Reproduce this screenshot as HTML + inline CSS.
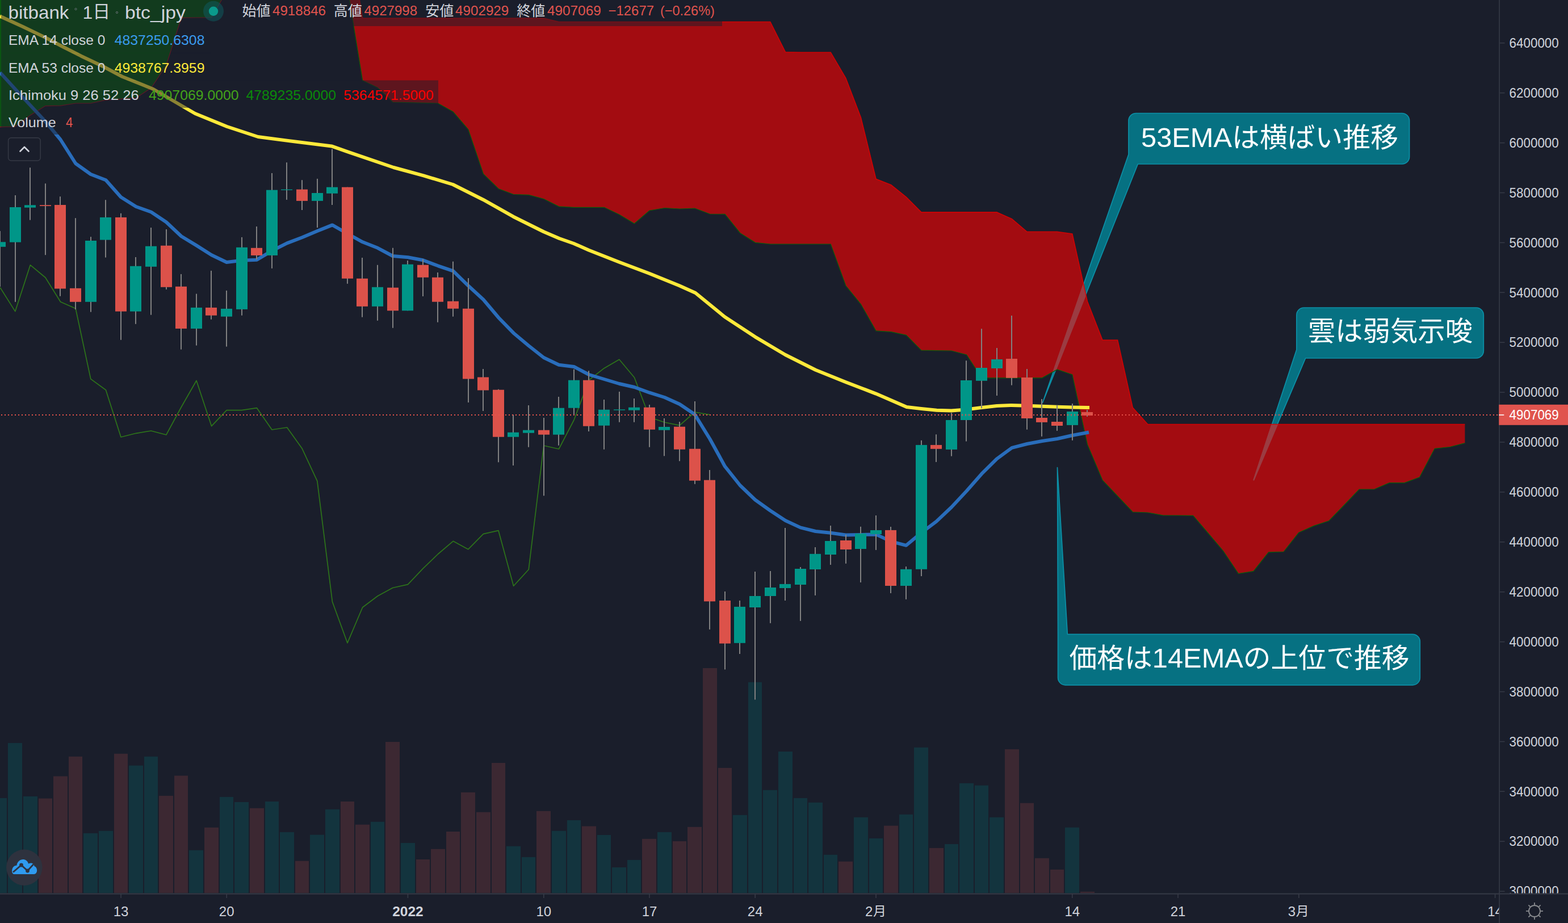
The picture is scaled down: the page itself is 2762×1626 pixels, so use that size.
<!DOCTYPE html>
<html><head><meta charset="utf-8"><title>bitbank btc_jpy</title>
<style>html,body{margin:0;padding:0;background:#1a1e2b;overflow:hidden}svg{display:block}text{font-family:"Liberation Sans","Noto Sans CJK JP",sans-serif}</style>
</head><body>
<svg width="2762" height="1626" viewBox="0 0 2762 1626" role="img" aria-label="bitbank btc_jpy 1日 chart">
<defs>
<clipPath id="pane"><rect x="0" y="0" width="2641" height="1574"/></clipPath>
<clipPath id="cl"><polygon points="612.0,-130.0 638.6,32.0 665.2,32.0 691.8,32.0 718.4,32.0 745.0,32.0 771.6,32.0 798.2,32.0 824.8,32.0 851.4,32.0 878.0,32.0 904.6,32.0 931.2,32.0 957.8,32.0 984.4,38.5 1011.0,38.5 1037.6,38.5 1064.2,38.5 1090.8,38.5 1117.4,38.5 1144.0,38.5 1170.6,38.5 1197.2,38.5 1223.8,38.5 1250.4,38.5 1277.0,38.5 1303.6,38.5 1330.2,38.5 1356.8,38.5 1383.4,91.7 1410.0,92.2 1436.6,92.2 1463.2,92.2 1489.8,137.5 1516.4,207.0 1543.0,315.3 1569.6,325.8 1596.2,347.2 1622.8,373.9 1649.4,373.9 1676.0,373.9 1702.6,373.9 1729.2,373.9 1755.8,373.9 1782.4,385.6 1809.0,408.3 1835.6,408.3 1862.2,408.3 1888.8,412.0 1915.4,531.0 1942.0,599.0 1968.6,599.0 1995.2,718.0 2021.8,747.5 2048.4,747.5 2075.0,747.5 2101.6,747.5 2128.2,747.5 2154.8,747.5 2181.4,747.5 2208.0,747.5 2234.6,747.5 2261.2,747.5 2287.8,747.5 2314.4,747.5 2341.0,747.5 2367.6,747.5 2394.2,747.5 2420.8,747.5 2447.4,747.5 2474.0,747.5 2500.6,747.5 2527.2,747.5 2553.8,747.5 2580.4,747.5 2580.4,780.6 2553.8,787.5 2527.2,790.3 2500.6,840.8 2474.0,850.6 2447.4,850.6 2420.8,862.0 2394.2,862.0 2367.6,890.0 2341.0,917.5 2314.4,926.4 2287.8,938.3 2261.2,972.0 2234.6,972.8 2208.0,1006.4 2181.4,1010.6 2154.8,970.8 2128.2,939.5 2101.6,908.3 2075.0,908.0 2048.4,907.8 2021.8,903.0 1995.2,902.0 1968.6,874.0 1942.0,846.0 1915.4,783.0 1888.8,660.0 1862.2,651.0 1835.6,665.8 1809.0,665.8 1782.4,665.8 1755.8,665.8 1729.2,665.8 1702.6,625.0 1676.0,618.0 1649.4,617.6 1622.8,617.2 1596.2,590.3 1569.6,584.7 1543.0,582.8 1516.4,536.0 1489.8,503.3 1463.2,430.0 1436.6,430.0 1410.0,430.0 1383.4,430.0 1356.8,430.0 1330.2,427.3 1303.6,410.5 1277.0,377.3 1250.4,377.0 1223.8,367.0 1197.2,368.0 1170.6,366.5 1144.0,371.0 1117.4,394.0 1090.8,378.0 1064.2,365.3 1037.6,365.3 1011.0,365.3 984.4,363.9 957.8,350.5 931.2,343.3 904.6,342.5 878.0,332.5 851.4,306.4 824.8,228.0 798.2,197.0 771.6,182.0 745.0,181.3 718.4,180.7 691.8,180.0 665.2,154.5 638.6,141.7 612.0,-22.0"/></clipPath>
<clipPath id="pax"><rect x="2642" y="0" width="120" height="1573.6"/></clipPath>
<clipPath id="tax"><rect x="0" y="1575" width="2640.3" height="60"/></clipPath>
</defs>
<rect width="2762" height="1626" fill="#1a1e2b"/>
<g clip-path="url(#pane)">
<rect x="-12" y="1405.9" width="24" height="167.3" fill="#13343e"/>
<rect x="14" y="1308.9" width="25" height="264.3" fill="#13343e"/>
<rect x="41" y="1402.9" width="25" height="170.3" fill="#13343e"/>
<rect x="68" y="1406.6" width="24" height="166.6" fill="#3c2832"/>
<rect x="94" y="1367.5" width="25" height="205.7" fill="#3c2832"/>
<rect x="121" y="1332.8" width="24" height="240.4" fill="#3c2832"/>
<rect x="147" y="1467.9" width="25" height="105.3" fill="#13343e"/>
<rect x="174" y="1463.8" width="25" height="109.4" fill="#13343e"/>
<rect x="201" y="1327.8" width="24" height="245.4" fill="#3c2832"/>
<rect x="227" y="1348.6" width="25" height="224.6" fill="#13343e"/>
<rect x="254" y="1332.8" width="24" height="240.4" fill="#13343e"/>
<rect x="280" y="1401.9" width="25" height="171.3" fill="#3c2832"/>
<rect x="307" y="1366.5" width="24" height="206.7" fill="#3c2832"/>
<rect x="333" y="1497.8" width="25" height="75.4" fill="#13343e"/>
<rect x="360" y="1457.8" width="25" height="115.4" fill="#3c2832"/>
<rect x="387" y="1403.9" width="24" height="169.3" fill="#13343e"/>
<rect x="413" y="1413.0" width="25" height="160.2" fill="#13343e"/>
<rect x="440" y="1423.7" width="25" height="149.5" fill="#3c2832"/>
<rect x="467" y="1412.0" width="24" height="161.2" fill="#13343e"/>
<rect x="493" y="1465.9" width="25" height="107.3" fill="#13343e"/>
<rect x="520" y="1516.7" width="24" height="56.5" fill="#3c2832"/>
<rect x="546" y="1470.6" width="25" height="102.6" fill="#13343e"/>
<rect x="573" y="1425.8" width="25" height="147.4" fill="#13343e"/>
<rect x="600" y="1412.0" width="24" height="161.2" fill="#3c2832"/>
<rect x="626" y="1452.7" width="25" height="120.5" fill="#3c2832"/>
<rect x="653" y="1447.7" width="24" height="125.5" fill="#13343e"/>
<rect x="679" y="1307.0" width="25" height="266.2" fill="#3c2832"/>
<rect x="706" y="1485.0" width="25" height="88.2" fill="#13343e"/>
<rect x="733" y="1514.0" width="24" height="59.2" fill="#3c2832"/>
<rect x="759" y="1495.7" width="25" height="77.5" fill="#3c2832"/>
<rect x="786" y="1465.0" width="24" height="108.2" fill="#3c2832"/>
<rect x="812" y="1395.9" width="25" height="177.3" fill="#3c2832"/>
<rect x="839" y="1430.7" width="25" height="142.5" fill="#3c2832"/>
<rect x="866" y="1344.0" width="24" height="229.2" fill="#3c2832"/>
<rect x="892" y="1490.7" width="25" height="82.5" fill="#13343e"/>
<rect x="919" y="1509.9" width="24" height="63.3" fill="#13343e"/>
<rect x="945" y="1428.8" width="25" height="144.4" fill="#3c2832"/>
<rect x="972" y="1463.7" width="25" height="109.5" fill="#13343e"/>
<rect x="999" y="1444.9" width="24" height="128.3" fill="#13343e"/>
<rect x="1025" y="1455.5" width="25" height="117.7" fill="#3c2832"/>
<rect x="1052" y="1470.9" width="24" height="102.3" fill="#13343e"/>
<rect x="1078" y="1528.0" width="25" height="45.2" fill="#13343e"/>
<rect x="1105" y="1514.9" width="24" height="58.3" fill="#13343e"/>
<rect x="1131" y="1477.8" width="25" height="95.4" fill="#3c2832"/>
<rect x="1158" y="1465.9" width="25" height="107.3" fill="#13343e"/>
<rect x="1185" y="1481.9" width="24" height="91.3" fill="#3c2832"/>
<rect x="1211" y="1456.8" width="25" height="116.4" fill="#3c2832"/>
<rect x="1238" y="1177.0" width="25" height="396.2" fill="#3c2832"/>
<rect x="1265" y="1352.8" width="24" height="220.4" fill="#3c2832"/>
<rect x="1291" y="1435.8" width="25" height="137.4" fill="#13343e"/>
<rect x="1318" y="1201.8" width="24" height="371.4" fill="#13343e"/>
<rect x="1344" y="1391.8" width="25" height="181.4" fill="#13343e"/>
<rect x="1371" y="1324.0" width="25" height="249.2" fill="#13343e"/>
<rect x="1398" y="1405.9" width="24" height="167.3" fill="#13343e"/>
<rect x="1424" y="1413.8" width="25" height="159.4" fill="#13343e"/>
<rect x="1451" y="1505.8" width="24" height="67.4" fill="#13343e"/>
<rect x="1477" y="1517.7" width="25" height="55.5" fill="#3c2832"/>
<rect x="1504" y="1439.8" width="25" height="133.4" fill="#13343e"/>
<rect x="1531" y="1476.9" width="24" height="96.3" fill="#13343e"/>
<rect x="1557" y="1454.6" width="25" height="118.6" fill="#3c2832"/>
<rect x="1584" y="1434.8" width="24" height="138.4" fill="#13343e"/>
<rect x="1610" y="1316.7" width="25" height="256.5" fill="#13343e"/>
<rect x="1637" y="1493.9" width="25" height="79.3" fill="#3c2832"/>
<rect x="1664" y="1487.0" width="24" height="86.2" fill="#13343e"/>
<rect x="1690" y="1379.8" width="25" height="193.4" fill="#13343e"/>
<rect x="1717" y="1383.6" width="24" height="189.6" fill="#13343e"/>
<rect x="1743" y="1439.8" width="25" height="133.4" fill="#13343e"/>
<rect x="1770" y="1319.9" width="25" height="253.3" fill="#3c2832"/>
<rect x="1797" y="1414.7" width="24" height="158.5" fill="#3c2832"/>
<rect x="1823" y="1511.8" width="25" height="61.4" fill="#3c2832"/>
<rect x="1850" y="1531.9" width="24" height="41.3" fill="#3c2832"/>
<rect x="1876" y="1457.7" width="25" height="115.5" fill="#13343e"/>
<rect x="1903" y="1570.8" width="25" height="2.4" fill="#3c2832"/>
<path d="M2001.0 199.5 H2469.6 A13 13 0 0 1 2482.6 212.5 V276.0 A13 13 0 0 1 2469.6 289.0 H2004.3 L1836.7 709.0 L1988.0 272.0 V212.5 A13 13 0 0 1 2001.0 199.5 Z" fill="#067182" stroke="#0c90a7" stroke-width="1.7" stroke-linejoin="round"/>
<path d="M2296.9 542.0 H2600.3 A13 13 0 0 1 2613.3 555.0 V618.0 A13 13 0 0 1 2600.3 631.0 H2299.6 L2208.3 845.8 L2283.9 616.0 V555.0 A13 13 0 0 1 2296.9 542.0 Z" fill="#067182" stroke="#0c90a7" stroke-width="1.7" stroke-linejoin="round"/>
<path d="M1880.3 1117.3 H2488.3 A13 13 0 0 1 2501.3 1130.3 V1193.8 A13 13 0 0 1 2488.3 1206.8 H1876.6 A13 13 0 0 1 1863.6 1193.8 V1117.3 L1862.5 823.6 Z" fill="#067182" stroke="#0c90a7" stroke-width="1.7" stroke-linejoin="round"/>
<polygon points="0.0,-20.0 0.2,223.6 26.8,223.0 53.4,203.0 80.0,186.6 106.6,186.2 133.2,182.0 159.8,182.0 186.4,176.2 213.0,174.3 239.6,172.5 266.2,155.0 292.8,115.0 319.4,31.4 346.0,31.0 372.6,31.0 399.2,-15.6 399.2,-20.0" fill="rgba(0,128,0,0.6)"/>
<polyline points="0.2,223.6 26.8,223.0 53.4,203.0 80.0,186.6 106.6,186.2 133.2,182.0 159.8,182.0 186.4,176.2 213.0,174.3 239.6,172.5 266.2,155.0 292.8,115.0 319.4,31.4 346.0,31.0 372.6,31.0 399.2,-15.6" fill="none" stroke="#a01020" stroke-width="1.2"/>
<polygon points="612.0,-130.0 638.6,32.0 665.2,32.0 691.8,32.0 718.4,32.0 745.0,32.0 771.6,32.0 798.2,32.0 824.8,32.0 851.4,32.0 878.0,32.0 904.6,32.0 931.2,32.0 957.8,32.0 984.4,38.5 1011.0,38.5 1037.6,38.5 1064.2,38.5 1090.8,38.5 1117.4,38.5 1144.0,38.5 1170.6,38.5 1197.2,38.5 1223.8,38.5 1250.4,38.5 1277.0,38.5 1303.6,38.5 1330.2,38.5 1356.8,38.5 1383.4,91.7 1410.0,92.2 1436.6,92.2 1463.2,92.2 1489.8,137.5 1516.4,207.0 1543.0,315.3 1569.6,325.8 1596.2,347.2 1622.8,373.9 1649.4,373.9 1676.0,373.9 1702.6,373.9 1729.2,373.9 1755.8,373.9 1782.4,385.6 1809.0,408.3 1835.6,408.3 1862.2,408.3 1888.8,412.0 1915.4,531.0 1942.0,599.0 1968.6,599.0 1995.2,718.0 2021.8,747.5 2048.4,747.5 2075.0,747.5 2101.6,747.5 2128.2,747.5 2154.8,747.5 2181.4,747.5 2208.0,747.5 2234.6,747.5 2261.2,747.5 2287.8,747.5 2314.4,747.5 2341.0,747.5 2367.6,747.5 2394.2,747.5 2420.8,747.5 2447.4,747.5 2474.0,747.5 2500.6,747.5 2527.2,747.5 2553.8,747.5 2580.4,747.5 2580.4,780.6 2553.8,787.5 2527.2,790.3 2500.6,840.8 2474.0,850.6 2447.4,850.6 2420.8,862.0 2394.2,862.0 2367.6,890.0 2341.0,917.5 2314.4,926.4 2287.8,938.3 2261.2,972.0 2234.6,972.8 2208.0,1006.4 2181.4,1010.6 2154.8,970.8 2128.2,939.5 2101.6,908.3 2075.0,908.0 2048.4,907.8 2021.8,903.0 1995.2,902.0 1968.6,874.0 1942.0,846.0 1915.4,783.0 1888.8,660.0 1862.2,651.0 1835.6,665.8 1809.0,665.8 1782.4,665.8 1755.8,665.8 1729.2,665.8 1702.6,625.0 1676.0,618.0 1649.4,617.6 1622.8,617.2 1596.2,590.3 1569.6,584.7 1543.0,582.8 1516.4,536.0 1489.8,503.3 1463.2,430.0 1436.6,430.0 1410.0,430.0 1383.4,430.0 1356.8,430.0 1330.2,427.3 1303.6,410.5 1277.0,377.3 1250.4,377.0 1223.8,367.0 1197.2,368.0 1170.6,366.5 1144.0,371.0 1117.4,394.0 1090.8,378.0 1064.2,365.3 1037.6,365.3 1011.0,365.3 984.4,363.9 957.8,350.5 931.2,343.3 904.6,342.5 878.0,332.5 851.4,306.4 824.8,228.0 798.2,197.0 771.6,182.0 745.0,181.3 718.4,180.7 691.8,180.0 665.2,154.5 638.6,141.7 612.0,-22.0" fill="rgba(255,0,0,0.6)"/>
<g clip-path="url(#cl)" fill="#9b3c42" stroke="#9b3c42" stroke-width="2.2"><polygon points="1988,272 1836.7,709 2004.3,289"/><polygon points="2283.9,616 2208.3,845.8 2299.6,631"/></g>
<polyline points="612.0,-130.0 638.6,32.0 665.2,32.0 691.8,32.0 718.4,32.0 745.0,32.0 771.6,32.0 798.2,32.0 824.8,32.0 851.4,32.0 878.0,32.0 904.6,32.0 931.2,32.0 957.8,32.0 984.4,38.5 1011.0,38.5 1037.6,38.5 1064.2,38.5 1090.8,38.5 1117.4,38.5 1144.0,38.5 1170.6,38.5 1197.2,38.5 1223.8,38.5 1250.4,38.5 1277.0,38.5 1303.6,38.5 1330.2,38.5 1356.8,38.5 1383.4,91.7 1410.0,92.2 1436.6,92.2 1463.2,92.2 1489.8,137.5 1516.4,207.0 1543.0,315.3 1569.6,325.8 1596.2,347.2 1622.8,373.9 1649.4,373.9 1676.0,373.9 1702.6,373.9 1729.2,373.9 1755.8,373.9 1782.4,385.6 1809.0,408.3 1835.6,408.3 1862.2,408.3 1888.8,412.0 1915.4,531.0 1942.0,599.0 1968.6,599.0 1995.2,718.0 2021.8,747.5 2048.4,747.5 2075.0,747.5 2101.6,747.5 2128.2,747.5 2154.8,747.5 2181.4,747.5 2208.0,747.5 2234.6,747.5 2261.2,747.5 2287.8,747.5 2314.4,747.5 2341.0,747.5 2367.6,747.5 2394.2,747.5 2420.8,747.5 2447.4,747.5 2474.0,747.5 2500.6,747.5 2527.2,747.5 2553.8,747.5 2580.4,747.5" fill="none" stroke="#e00000" stroke-width="1.6" opacity="0.85"/>
<polyline points="612.0,-22.0 638.6,141.7 665.2,154.5 691.8,180.0 718.4,180.7 745.0,181.3 771.6,182.0 798.2,197.0 824.8,228.0 851.4,306.4 878.0,332.5 904.6,342.5 931.2,343.3 957.8,350.5 984.4,363.9 1011.0,365.3 1037.6,365.3 1064.2,365.3 1090.8,378.0 1117.4,394.0 1144.0,371.0 1170.6,366.5 1197.2,368.0 1223.8,367.0 1250.4,377.0 1277.0,377.3 1303.6,410.5 1330.2,427.3 1356.8,430.0 1383.4,430.0 1410.0,430.0 1436.6,430.0 1463.2,430.0 1489.8,503.3 1516.4,536.0 1543.0,582.8 1569.6,584.7 1596.2,590.3 1622.8,617.2 1649.4,617.6 1676.0,618.0 1702.6,625.0 1729.2,665.8 1755.8,665.8 1782.4,665.8 1809.0,665.8 1835.6,665.8 1862.2,651.0 1888.8,660.0 1915.4,783.0 1942.0,846.0 1968.6,874.0 1995.2,902.0 2021.8,903.0 2048.4,907.8 2075.0,908.0 2101.6,908.3 2128.2,939.5 2154.8,970.8 2181.4,1010.6 2208.0,1006.4 2234.6,972.8 2261.2,972.0 2287.8,938.3 2314.4,926.4 2341.0,917.5 2367.6,890.0 2394.2,862.0 2420.8,862.0 2447.4,850.6 2474.0,850.6 2500.6,840.8 2527.2,790.3 2553.8,787.5 2580.4,780.6" fill="none" stroke="#0a5c0a" stroke-width="1.2"/>
<polyline points="0.2,506.5 26.8,548.6 53.4,466.8 80.0,489.0 106.6,531.8 133.2,543.5 159.8,667.6 186.4,687.0 213.0,770.0 239.6,763.3 266.2,759.0 292.8,766.0 319.4,717.0 346.0,670.5 372.6,750.7 399.2,722.7 425.8,722.7 452.4,718.7 479.0,757.0 505.6,753.0 532.2,790.3 558.8,847.3 585.4,1060.0 612.0,1132.7 638.6,1070.0 665.2,1050.0 691.8,1035.5 718.4,1029.7 745.0,1001.7 771.6,976.0 798.2,953.3 824.8,967.7 851.4,940.7 878.0,934.7 904.6,1032.3 931.2,1003.3 957.8,785.0 984.4,791.0 1011.0,740.0 1037.6,669.5 1064.2,648.7 1090.8,633.3 1117.4,665.0 1144.0,735.0 1170.6,744.0 1197.2,749.3 1223.8,726.0 1250.4,730.7" fill="none" stroke="#2d741a" stroke-width="1.7" stroke-linejoin="round"/>
<polyline points="0.2,127.8 26.8,157.0 53.4,185.5 80.0,214.0 106.6,246.0 133.2,288.0 159.8,307.0 186.4,317.2 213.0,347.2 239.6,364.0 266.2,373.5 292.8,391.3 319.4,416.2 346.0,432.4 372.6,449.2 399.2,462.0 425.8,458.7 452.4,457.7 479.0,441.8 505.6,428.4 532.2,418.3 558.8,407.1 585.4,396.4 612.0,411.5 638.6,426.3 665.2,436.8 691.8,451.0 718.4,453.3 745.0,458.3 771.6,468.3 798.2,477.3 824.8,503.3 851.4,527.7 878.0,559.3 904.6,586.7 931.2,609.0 957.8,630.0 984.4,642.7 1011.0,646.0 1037.6,660.0 1064.2,668.0 1090.8,676.0 1117.4,682.0 1144.0,691.7 1170.6,700.0 1197.2,712.0 1223.8,730.0 1250.4,773.3 1277.0,821.7 1303.6,855.0 1330.2,880.5 1356.8,899.5 1383.4,917.0 1410.0,929.4 1436.6,936.0 1463.2,938.7 1489.8,942.5 1516.4,942.0 1543.0,941.4 1569.6,953.9 1596.2,960.8 1622.8,938.6 1649.4,918.6 1676.0,893.5 1702.6,865.0 1729.2,834.7 1755.8,808.3 1782.4,788.9 1809.0,782.0 1835.6,777.0 1862.2,773.0 1888.8,767.0 1915.4,762.0 1918.0,761.5" fill="none" stroke="#296dbb" stroke-width="6" stroke-linejoin="round"/>
<polyline points="0.0,28.6 39.7,46.8 79.4,65.9 111.0,82.5 142.9,98.7 182.5,117.5 215.4,135.0 270.0,157.0 323.0,188.0 343.6,200.0 399.8,223.0 454.5,241.0 520.0,249.5 584.0,257.4 612.3,267.4 693.3,295.0 746.0,309.3 797.7,325.0 851.0,351.7 904.3,381.7 957.7,408.3 985.0,420.0 1010.7,429.0 1037.3,440.7 1090.7,461.7 1143.7,481.7 1196.7,503.3 1225.0,516.0 1276.7,558.3 1330.0,593.3 1383.3,625.0 1436.7,651.7 1490.0,673.3 1519.3,684.5 1543.0,693.6 1597.0,717.0 1622.8,720.0 1650.0,722.8 1675.8,723.6 1702.0,721.4 1729.0,718.0 1755.8,715.0 1782.0,713.9 1809.0,714.7 1835.0,715.8 1862.0,716.7 1889.0,717.5 1916.0,718.0 1919.0,718.0" fill="none" stroke="#fde93a" stroke-width="6" stroke-linejoin="round"/>
<rect x="-1.0" y="407.0" width="2" height="98.0" fill="#808080"/>
<rect x="26.0" y="344.0" width="2" height="187.8" fill="#808080"/>
<rect x="52.0" y="295.3" width="2" height="92.3" fill="#808080"/>
<rect x="79.0" y="323.3" width="2" height="125.9" fill="#808080"/>
<rect x="105.0" y="346.2" width="2" height="175.5" fill="#808080"/>
<rect x="132.0" y="384.2" width="2" height="161.0" fill="#808080"/>
<rect x="159.0" y="417.2" width="2" height="132.4" fill="#808080"/>
<rect x="185.0" y="352.2" width="2" height="101.4" fill="#808080"/>
<rect x="212.0" y="375.8" width="2" height="223.0" fill="#808080"/>
<rect x="238.0" y="453.0" width="2" height="117.8" fill="#808080"/>
<rect x="265.0" y="401.0" width="2" height="153.7" fill="#808080"/>
<rect x="292.0" y="404.0" width="2" height="105.9" fill="#808080"/>
<rect x="318.0" y="482.9" width="2" height="132.7" fill="#808080"/>
<rect x="345.0" y="517.6" width="2" height="91.0" fill="#808080"/>
<rect x="371.0" y="476.9" width="2" height="85.8" fill="#808080"/>
<rect x="398.0" y="511.9" width="2" height="98.7" fill="#808080"/>
<rect x="425.0" y="417.9" width="2" height="137.8" fill="#808080"/>
<rect x="451.0" y="399.0" width="2" height="58.0" fill="#808080"/>
<rect x="478.0" y="305.0" width="2" height="167.8" fill="#808080"/>
<rect x="504.0" y="286.2" width="2" height="65.7" fill="#808080"/>
<rect x="531.0" y="317.2" width="2" height="52.8" fill="#808080"/>
<rect x="558.0" y="314.9" width="2" height="86.1" fill="#808080"/>
<rect x="584.0" y="262.6" width="2" height="98.4" fill="#808080"/>
<rect x="611.0" y="329.7" width="2" height="170.1" fill="#808080"/>
<rect x="637.0" y="454.0" width="2" height="104.7" fill="#808080"/>
<rect x="664.0" y="466.8" width="2" height="98.0" fill="#808080"/>
<rect x="691.0" y="436.7" width="2" height="141.0" fill="#808080"/>
<rect x="717.0" y="459.0" width="2" height="88.3" fill="#808080"/>
<rect x="744.0" y="456.7" width="2" height="65.3" fill="#808080"/>
<rect x="770.0" y="480.0" width="2" height="87.7" fill="#808080"/>
<rect x="797.0" y="460.7" width="2" height="97.0" fill="#808080"/>
<rect x="824.0" y="490.0" width="2" height="219.0" fill="#808080"/>
<rect x="850.0" y="650.0" width="2" height="74.0" fill="#808080"/>
<rect x="877.0" y="685.7" width="2" height="128.6" fill="#808080"/>
<rect x="903.0" y="730.7" width="2" height="89.3" fill="#808080"/>
<rect x="930.0" y="714.0" width="2" height="73.7" fill="#808080"/>
<rect x="957.0" y="736.0" width="2" height="137.3" fill="#808080"/>
<rect x="983.0" y="699.0" width="2" height="85.7" fill="#808080"/>
<rect x="1010.0" y="650.7" width="2" height="80.0" fill="#808080"/>
<rect x="1036.0" y="653.3" width="2" height="106.7" fill="#808080"/>
<rect x="1063.0" y="704.0" width="2" height="87.7" fill="#808080"/>
<rect x="1090.0" y="690.0" width="2" height="53.7" fill="#808080"/>
<rect x="1116.0" y="702.0" width="2" height="41.7" fill="#808080"/>
<rect x="1143.0" y="713.0" width="2" height="74.7" fill="#808080"/>
<rect x="1169.0" y="737.0" width="2" height="66.3" fill="#808080"/>
<rect x="1196.0" y="743.0" width="2" height="69.3" fill="#808080"/>
<rect x="1223.0" y="707.0" width="2" height="145.7" fill="#808080"/>
<rect x="1249.0" y="828.0" width="2" height="280.9" fill="#808080"/>
<rect x="1276.0" y="1042.0" width="2" height="137.4" fill="#808080"/>
<rect x="1302.0" y="1058.0" width="2" height="94.0" fill="#808080"/>
<rect x="1329.0" y="1007.0" width="2" height="225.5" fill="#808080"/>
<rect x="1356.0" y="1006.0" width="2" height="91.8" fill="#808080"/>
<rect x="1382.0" y="930.0" width="2" height="128.0" fill="#808080"/>
<rect x="1409.0" y="999.0" width="2" height="94.9" fill="#808080"/>
<rect x="1435.0" y="964.0" width="2" height="84.9" fill="#808080"/>
<rect x="1462.0" y="926.0" width="2" height="69.0" fill="#808080"/>
<rect x="1489.0" y="942.0" width="2" height="50.8" fill="#808080"/>
<rect x="1515.0" y="927.8" width="2" height="98.2" fill="#808080"/>
<rect x="1542.0" y="908.0" width="2" height="60.9" fill="#808080"/>
<rect x="1568.0" y="928.0" width="2" height="117.0" fill="#808080"/>
<rect x="1595.0" y="998.0" width="2" height="57.8" fill="#808080"/>
<rect x="1622.0" y="775.8" width="2" height="239.2" fill="#808080"/>
<rect x="1648.0" y="765.3" width="2" height="48.6" fill="#808080"/>
<rect x="1675.0" y="727.2" width="2" height="76.4" fill="#808080"/>
<rect x="1701.0" y="635.3" width="2" height="142.2" fill="#808080"/>
<rect x="1728.0" y="579.2" width="2" height="140.2" fill="#808080"/>
<rect x="1755.0" y="613.0" width="2" height="84.0" fill="#808080"/>
<rect x="1781.0" y="556.0" width="2" height="122.6" fill="#808080"/>
<rect x="1808.0" y="650.0" width="2" height="106.7" fill="#808080"/>
<rect x="1834.0" y="703.0" width="2" height="65.9" fill="#808080"/>
<rect x="1861.0" y="713.9" width="2" height="45.0" fill="#808080"/>
<rect x="1888.0" y="711.0" width="2" height="64.8" fill="#808080"/>
<rect x="1914.0" y="722.0" width="2" height="11.9" fill="#808080"/>
<rect x="-10.0" y="426.3" width="20" height="8.5" fill="#009688"/>
<rect x="17.0" y="365.0" width="20" height="61.7" fill="#009688"/>
<rect x="43.0" y="361.3" width="20" height="4.4" fill="#009688"/>
<rect x="70.0" y="361.3" width="20" height="1.7" fill="#dc524a"/>
<rect x="96.0" y="361.0" width="20" height="147.5" fill="#dc524a"/>
<rect x="123.0" y="507.8" width="20" height="24.0" fill="#dc524a"/>
<rect x="150.0" y="424.0" width="20" height="107.8" fill="#009688"/>
<rect x="176.0" y="382.9" width="20" height="39.7" fill="#009688"/>
<rect x="203.0" y="382.9" width="20" height="165.7" fill="#dc524a"/>
<rect x="229.0" y="468.8" width="20" height="79.8" fill="#009688"/>
<rect x="256.0" y="433.7" width="20" height="36.1" fill="#009688"/>
<rect x="283.0" y="432.7" width="20" height="73.1" fill="#dc524a"/>
<rect x="309.0" y="504.8" width="20" height="74.1" fill="#dc524a"/>
<rect x="336.0" y="541.9" width="20" height="37.0" fill="#009688"/>
<rect x="362.0" y="541.9" width="20" height="13.8" fill="#dc524a"/>
<rect x="389.0" y="543.9" width="20" height="13.8" fill="#009688"/>
<rect x="416.0" y="435.8" width="20" height="109.1" fill="#009688"/>
<rect x="442.0" y="436.8" width="20" height="13.1" fill="#dc524a"/>
<rect x="469.0" y="334.7" width="20" height="115.2" fill="#009688"/>
<rect x="495.0" y="333.7" width="20" height="1.3" fill="#009688"/>
<rect x="522.0" y="333.7" width="20" height="20.2" fill="#dc524a"/>
<rect x="549.0" y="340.0" width="20" height="13.9" fill="#009688"/>
<rect x="575.0" y="329.7" width="20" height="11.1" fill="#009688"/>
<rect x="602.0" y="329.7" width="20" height="161.0" fill="#dc524a"/>
<rect x="628.0" y="490.7" width="20" height="49.1" fill="#dc524a"/>
<rect x="655.0" y="505.8" width="20" height="34.0" fill="#009688"/>
<rect x="682.0" y="506.7" width="20" height="40.6" fill="#dc524a"/>
<rect x="708.0" y="465.7" width="20" height="81.6" fill="#009688"/>
<rect x="735.0" y="466.7" width="20" height="22.0" fill="#dc524a"/>
<rect x="761.0" y="488.7" width="20" height="43.0" fill="#dc524a"/>
<rect x="788.0" y="530.7" width="20" height="13.0" fill="#dc524a"/>
<rect x="815.0" y="543.7" width="20" height="123.8" fill="#dc524a"/>
<rect x="841.0" y="664.5" width="20" height="23.0" fill="#dc524a"/>
<rect x="868.0" y="686.7" width="20" height="83.0" fill="#dc524a"/>
<rect x="894.0" y="761.7" width="20" height="8.0" fill="#009688"/>
<rect x="921.0" y="757.7" width="20" height="5.0" fill="#009688"/>
<rect x="948.0" y="757.7" width="20" height="8.0" fill="#dc524a"/>
<rect x="974.0" y="718.7" width="20" height="47.0" fill="#009688"/>
<rect x="1001.0" y="669.7" width="20" height="49.0" fill="#009688"/>
<rect x="1027.0" y="669.7" width="20" height="81.0" fill="#dc524a"/>
<rect x="1054.0" y="721.7" width="20" height="28.0" fill="#009688"/>
<rect x="1081.0" y="721.3" width="20" height="1.4" fill="#009688"/>
<rect x="1107.0" y="717.7" width="20" height="5.0" fill="#009688"/>
<rect x="1134.0" y="717.7" width="20" height="39.0" fill="#dc524a"/>
<rect x="1160.0" y="752.0" width="20" height="5.7" fill="#009688"/>
<rect x="1187.0" y="751.7" width="20" height="40.0" fill="#dc524a"/>
<rect x="1214.0" y="790.7" width="20" height="56.0" fill="#dc524a"/>
<rect x="1240.0" y="845.7" width="20" height="213.7" fill="#dc524a"/>
<rect x="1267.0" y="1058.0" width="20" height="75.6" fill="#dc524a"/>
<rect x="1293.0" y="1068.9" width="20" height="63.9" fill="#009688"/>
<rect x="1320.0" y="1050.0" width="20" height="20.0" fill="#009688"/>
<rect x="1347.0" y="1035.0" width="20" height="15.0" fill="#009688"/>
<rect x="1373.0" y="1028.9" width="20" height="7.1" fill="#009688"/>
<rect x="1400.0" y="1002.0" width="20" height="28.0" fill="#009688"/>
<rect x="1426.0" y="975.8" width="20" height="27.2" fill="#009688"/>
<rect x="1453.0" y="953.0" width="20" height="24.0" fill="#009688"/>
<rect x="1480.0" y="952.0" width="20" height="16.0" fill="#dc524a"/>
<rect x="1506.0" y="940.0" width="20" height="27.0" fill="#009688"/>
<rect x="1533.0" y="934.0" width="20" height="7.0" fill="#009688"/>
<rect x="1559.0" y="933.9" width="20" height="98.1" fill="#dc524a"/>
<rect x="1586.0" y="1002.8" width="20" height="29.2" fill="#009688"/>
<rect x="1613.0" y="783.9" width="20" height="218.9" fill="#009688"/>
<rect x="1639.0" y="783.9" width="20" height="6.9" fill="#dc524a"/>
<rect x="1666.0" y="740.0" width="20" height="51.9" fill="#009688"/>
<rect x="1692.0" y="670.0" width="20" height="70.0" fill="#009688"/>
<rect x="1719.0" y="648.0" width="20" height="22.8" fill="#009688"/>
<rect x="1746.0" y="633.0" width="20" height="15.9" fill="#009688"/>
<rect x="1772.0" y="632.0" width="20" height="33.8" fill="#dc524a"/>
<rect x="1799.0" y="665.0" width="20" height="72.0" fill="#dc524a"/>
<rect x="1825.0" y="736.0" width="20" height="7.9" fill="#dc524a"/>
<rect x="1852.0" y="743.0" width="20" height="7.0" fill="#dc524a"/>
<rect x="1879.0" y="725.0" width="20" height="23.9" fill="#009688"/>
<rect x="1905.0" y="726.0" width="20" height="6.0" fill="#dc524a"/>
<line x1="2" y1="731" x2="2641" y2="731" stroke="#e8544c" stroke-width="2" stroke-dasharray="2 4"/>
<rect x="2.0" y="0.0" width="1270.0" height="46.0" fill="rgba(26,30,43,0.5)"/>
<rect x="2.0" y="46.0" width="370.0" height="47.5" fill="rgba(26,30,43,0.5)"/>
<rect x="2.0" y="93.5" width="370.0" height="48.0" fill="rgba(26,30,43,0.5)"/>
<rect x="2.0" y="141.5" width="770.0" height="48.5" fill="rgba(26,30,43,0.5)"/>
<rect x="2.0" y="190.0" width="135.0" height="47.0" fill="rgba(26,30,43,0.5)"/>
</g>
<g font-family="'Liberation Sans', 'Noto Sans CJK JP', sans-serif">
<text x="14.6" y="32.5" font-size="32" fill="#d1d4dc" textLength="106.8" lengthAdjust="spacingAndGlyphs">bitbank</text>
<circle cx="133.5" cy="16" r="1.6" fill="none" stroke="#787b86" stroke-width="0.8"/>
<text x="145.5" y="32.5" font-size="32" fill="#d1d4dc">1</text>
<text x="163.3" y="31.2" font-size="31" fill="#d1d4dc">日</text>
<circle cx="206" cy="22" r="1.6" fill="none" stroke="#787b86" stroke-width="0.8"/>
<text x="220.0" y="32.5" font-size="32" fill="#d1d4dc" textLength="106.8" lengthAdjust="spacingAndGlyphs">btc_jpy</text>
<circle cx="376" cy="19.7" r="18" fill="#0f5a5c" opacity="0.55"/>
<circle cx="376" cy="19.7" r="8.2" fill="#0a9a8c"/>
<text x="426.4" y="27.8" font-size="25" fill="#d1d4dc">始値</text>
<text x="480.0" y="27.4" font-size="24" fill="#e0544e" textLength="94.0" lengthAdjust="spacingAndGlyphs">4918846</text>
<text x="587.8" y="27.8" font-size="25" fill="#d1d4dc">高値</text>
<text x="641.5" y="27.4" font-size="24" fill="#e0544e" textLength="93.5" lengthAdjust="spacingAndGlyphs">4927998</text>
<text x="749.2" y="27.8" font-size="25" fill="#d1d4dc">安値</text>
<text x="802.0" y="27.4" font-size="24" fill="#e0544e" textLength="94.3" lengthAdjust="spacingAndGlyphs">4902929</text>
<text x="910.2" y="27.8" font-size="25" fill="#d1d4dc">終値</text>
<text x="963.9" y="27.4" font-size="24" fill="#e0544e" textLength="94.9" lengthAdjust="spacingAndGlyphs">4907069</text>
<text x="1071.6" y="27.4" font-size="24" fill="#e0544e" textLength="80.4" lengthAdjust="spacingAndGlyphs">−12677</text>
<text x="1162.9" y="27.4" font-size="24" fill="#e0544e" textLength="96.0" lengthAdjust="spacingAndGlyphs">(−0.26%)</text>
<text x="15.0" y="79.4" font-size="24" fill="#d1d4dc" textLength="170.3" lengthAdjust="spacingAndGlyphs">EMA 14 close 0</text>
<text x="201.7" y="79.4" font-size="24" fill="#3a9cf0" textLength="158.8" lengthAdjust="spacingAndGlyphs">4837250.6308</text>
<text x="15.0" y="127.8" font-size="24" fill="#d1d4dc" textLength="170.3" lengthAdjust="spacingAndGlyphs">EMA 53 close 0</text>
<text x="201.7" y="127.8" font-size="24" fill="#fde93a" textLength="158.8" lengthAdjust="spacingAndGlyphs">4938767.3959</text>
<text x="15.0" y="175.6" font-size="24" fill="#d1d4dc" textLength="229.6" lengthAdjust="spacingAndGlyphs">Ichimoku 9 26 52 26</text>
<text x="262.0" y="175.6" font-size="24" fill="#43a41a" textLength="158.6" lengthAdjust="spacingAndGlyphs">4907069.0000</text>
<text x="433.4" y="175.6" font-size="24" fill="#0a8a0a" textLength="158.8" lengthAdjust="spacingAndGlyphs">4789235.0000</text>
<text x="605.3" y="175.6" font-size="24" fill="#ff0000" textLength="158.5" lengthAdjust="spacingAndGlyphs">5364571.5000</text>
<text x="15.0" y="223.6" font-size="24" fill="#d1d4dc" textLength="83.6" lengthAdjust="spacingAndGlyphs">Volume</text>
<text x="116.0" y="223.6" font-size="24" fill="#e0544e" textLength="12.3" lengthAdjust="spacingAndGlyphs">4</text>
<rect x="14.6" y="242.8" width="56.6" height="40.2" rx="5" fill="none" stroke="#363a46" stroke-width="1.4"/>
<polyline points="35.5,266.5 43,259 50.5,266.5" fill="none" stroke="#d1d4dc" stroke-width="2.6" stroke-linecap="round" stroke-linejoin="round"/>
<text x="2010" y="258.5" font-size="48" fill="#ffffff" textLength="453" lengthAdjust="spacingAndGlyphs">53EMAは横ばい推移</text>
<text x="2304" y="600" font-size="48" fill="#ffffff" textLength="290" lengthAdjust="spacingAndGlyphs">雲は弱気示唆</text>
<text x="1883.5" y="1176" font-size="48" fill="#ffffff" textLength="599" lengthAdjust="spacingAndGlyphs">価格は14EMAの上位で推移</text>
<rect x="0" y="1573.6" width="2762" height="2" fill="#363a46"/>
<rect x="2640.3" y="0" width="1.6" height="1626" fill="#363a46"/>
<g clip-path="url(#pax)">
<rect x="2642" y="75.0" width="8.5" height="1.5" fill="#363a46"/>
<text x="2658.5" y="84.0" font-size="23.5" fill="#d1d4dc" textLength="87.3" lengthAdjust="spacingAndGlyphs">6400000</text>
<rect x="2642" y="162.9" width="8.5" height="1.5" fill="#363a46"/>
<text x="2658.5" y="171.9" font-size="23.5" fill="#d1d4dc" textLength="87.3" lengthAdjust="spacingAndGlyphs">6200000</text>
<rect x="2642" y="250.9" width="8.5" height="1.5" fill="#363a46"/>
<text x="2658.5" y="259.8" font-size="23.5" fill="#d1d4dc" textLength="87.3" lengthAdjust="spacingAndGlyphs">6000000</text>
<rect x="2642" y="338.8" width="8.5" height="1.5" fill="#363a46"/>
<text x="2658.5" y="347.7" font-size="23.5" fill="#d1d4dc" textLength="87.3" lengthAdjust="spacingAndGlyphs">5800000</text>
<rect x="2642" y="426.7" width="8.5" height="1.5" fill="#363a46"/>
<text x="2658.5" y="435.6" font-size="23.5" fill="#d1d4dc" textLength="87.3" lengthAdjust="spacingAndGlyphs">5600000</text>
<rect x="2642" y="514.5" width="8.5" height="1.5" fill="#363a46"/>
<text x="2658.5" y="523.5" font-size="23.5" fill="#d1d4dc" textLength="87.3" lengthAdjust="spacingAndGlyphs">5400000</text>
<rect x="2642" y="602.5" width="8.5" height="1.5" fill="#363a46"/>
<text x="2658.5" y="611.4" font-size="23.5" fill="#d1d4dc" textLength="87.3" lengthAdjust="spacingAndGlyphs">5200000</text>
<rect x="2642" y="690.4" width="8.5" height="1.5" fill="#363a46"/>
<text x="2658.5" y="699.3" font-size="23.5" fill="#d1d4dc" textLength="87.3" lengthAdjust="spacingAndGlyphs">5000000</text>
<rect x="2642" y="778.2" width="8.5" height="1.5" fill="#363a46"/>
<text x="2658.5" y="787.2" font-size="23.5" fill="#d1d4dc" textLength="87.3" lengthAdjust="spacingAndGlyphs">4800000</text>
<rect x="2642" y="866.1" width="8.5" height="1.5" fill="#363a46"/>
<text x="2658.5" y="875.1" font-size="23.5" fill="#d1d4dc" textLength="87.3" lengthAdjust="spacingAndGlyphs">4600000</text>
<rect x="2642" y="954.0" width="8.5" height="1.5" fill="#363a46"/>
<text x="2658.5" y="963.0" font-size="23.5" fill="#d1d4dc" textLength="87.3" lengthAdjust="spacingAndGlyphs">4400000</text>
<rect x="2642" y="1042.0" width="8.5" height="1.5" fill="#363a46"/>
<text x="2658.5" y="1050.9" font-size="23.5" fill="#d1d4dc" textLength="87.3" lengthAdjust="spacingAndGlyphs">4200000</text>
<rect x="2642" y="1129.9" width="8.5" height="1.5" fill="#363a46"/>
<text x="2658.5" y="1138.8" font-size="23.5" fill="#d1d4dc" textLength="87.3" lengthAdjust="spacingAndGlyphs">4000000</text>
<rect x="2642" y="1217.8" width="8.5" height="1.5" fill="#363a46"/>
<text x="2658.5" y="1226.7" font-size="23.5" fill="#d1d4dc" textLength="87.3" lengthAdjust="spacingAndGlyphs">3800000</text>
<rect x="2642" y="1305.7" width="8.5" height="1.5" fill="#363a46"/>
<text x="2658.5" y="1314.6" font-size="23.5" fill="#d1d4dc" textLength="87.3" lengthAdjust="spacingAndGlyphs">3600000</text>
<rect x="2642" y="1393.5" width="8.5" height="1.5" fill="#363a46"/>
<text x="2658.5" y="1402.5" font-size="23.5" fill="#d1d4dc" textLength="87.3" lengthAdjust="spacingAndGlyphs">3400000</text>
<rect x="2642" y="1481.5" width="8.5" height="1.5" fill="#363a46"/>
<text x="2658.5" y="1490.4" font-size="23.5" fill="#d1d4dc" textLength="87.3" lengthAdjust="spacingAndGlyphs">3200000</text>
<rect x="2642" y="1569.4" width="8.5" height="1.5" fill="#363a46"/>
<text x="2658.5" y="1578.3" font-size="23.5" fill="#d1d4dc" textLength="87.3" lengthAdjust="spacingAndGlyphs">3000000</text>
</g>
<rect x="2640.3" y="712.8" width="122" height="36" fill="#e0544e"/>
<rect x="2640.3" y="730.2" width="9" height="1.6" fill="#ffffff"/>
<text x="2658.5" y="739.2" font-size="23.5" fill="#ffffff" textLength="87.3" lengthAdjust="spacingAndGlyphs">4907069</text>
<g clip-path="url(#tax)">
<rect x="212.2" y="1575" width="1.6" height="7" fill="#363a46"/>
<text x="213.0" y="1613.8" font-size="24" fill="#d1d4dc" text-anchor="middle">13</text>
<rect x="398.4" y="1575" width="1.6" height="7" fill="#363a46"/>
<text x="399.2" y="1613.8" font-size="24" fill="#d1d4dc" text-anchor="middle">20</text>
<rect x="957.0" y="1575" width="1.6" height="7" fill="#363a46"/>
<text x="957.8" y="1613.8" font-size="24" fill="#d1d4dc" text-anchor="middle">10</text>
<rect x="1143.2" y="1575" width="1.6" height="7" fill="#363a46"/>
<text x="1144.0" y="1613.8" font-size="24" fill="#d1d4dc" text-anchor="middle">17</text>
<rect x="1329.4" y="1575" width="1.6" height="7" fill="#363a46"/>
<text x="1330.2" y="1613.8" font-size="24" fill="#d1d4dc" text-anchor="middle">24</text>
<rect x="1888.0" y="1575" width="1.6" height="7" fill="#363a46"/>
<text x="1888.8" y="1613.8" font-size="24" fill="#d1d4dc" text-anchor="middle">14</text>
<rect x="2074.2" y="1575" width="1.6" height="7" fill="#363a46"/>
<text x="2075.0" y="1613.8" font-size="24" fill="#d1d4dc" text-anchor="middle">21</text>
<rect x="2632.8" y="1575" width="1.6" height="7" fill="#363a46"/>
<text x="2633.6" y="1613.8" font-size="24" fill="#d1d4dc" text-anchor="middle">14</text>
<rect x="717.6" y="1575" width="1.6" height="7" fill="#363a46"/>
<text x="718.4" y="1613.8" font-size="24" fill="#d1d4dc" text-anchor="middle" textLength="54.5" lengthAdjust="spacingAndGlyphs" font-weight="bold">2022</text>
<rect x="1542.2" y="1575" width="1.6" height="7" fill="#363a46"/>
<text x="1524.0" y="1613.8" font-size="24" fill="#d1d4dc">2</text>
<text x="1538" y="1613.3" font-size="23" fill="#d1d4dc">月</text>
<rect x="2287.0" y="1575" width="1.6" height="7" fill="#363a46"/>
<text x="2268.8" y="1613.8" font-size="24" fill="#d1d4dc">3</text>
<text x="2282.8" y="1613.3" font-size="23" fill="#d1d4dc">月</text>
</g>
<g fill="none" stroke="#888a8e" stroke-width="1.8"><circle cx="2703" cy="1605" r="10"/>
<line x1="2713.5" y1="1605.0" x2="2718.0" y2="1605.0"/>
<line x1="2710.4" y1="1612.4" x2="2713.6" y2="1615.6"/>
<line x1="2703.0" y1="1615.5" x2="2703.0" y2="1620.0"/>
<line x1="2695.6" y1="1612.4" x2="2692.4" y2="1615.6"/>
<line x1="2692.5" y1="1605.0" x2="2688.0" y2="1605.0"/>
<line x1="2695.6" y1="1597.6" x2="2692.4" y2="1594.4"/>
<line x1="2703.0" y1="1594.5" x2="2703.0" y2="1590.0"/>
<line x1="2710.4" y1="1597.6" x2="2713.6" y2="1594.4"/>
</g>
</g>
<circle cx="42.8" cy="1528.2" r="31.7" fill="#2e323e"/>
<path d="M25 1540 C19 1540 19.5 1525 29.5 1524.5 C31 1511.5 47.5 1510.5 50 1521.5 C55 1519 60 1521 60.5 1526 C67 1528 66.5 1540 60 1540 Z" fill="#2f9bef"/>
<polyline points="23,1536.5 37.5,1524 48.5,1534 59,1522.5" fill="none" stroke="#2e323e" stroke-width="2.8"/>
<circle cx="37.5" cy="1524" r="3.4" fill="#2e323e"/><circle cx="48.5" cy="1534" r="3.4" fill="#2e323e"/>
</svg>
</body></html>
